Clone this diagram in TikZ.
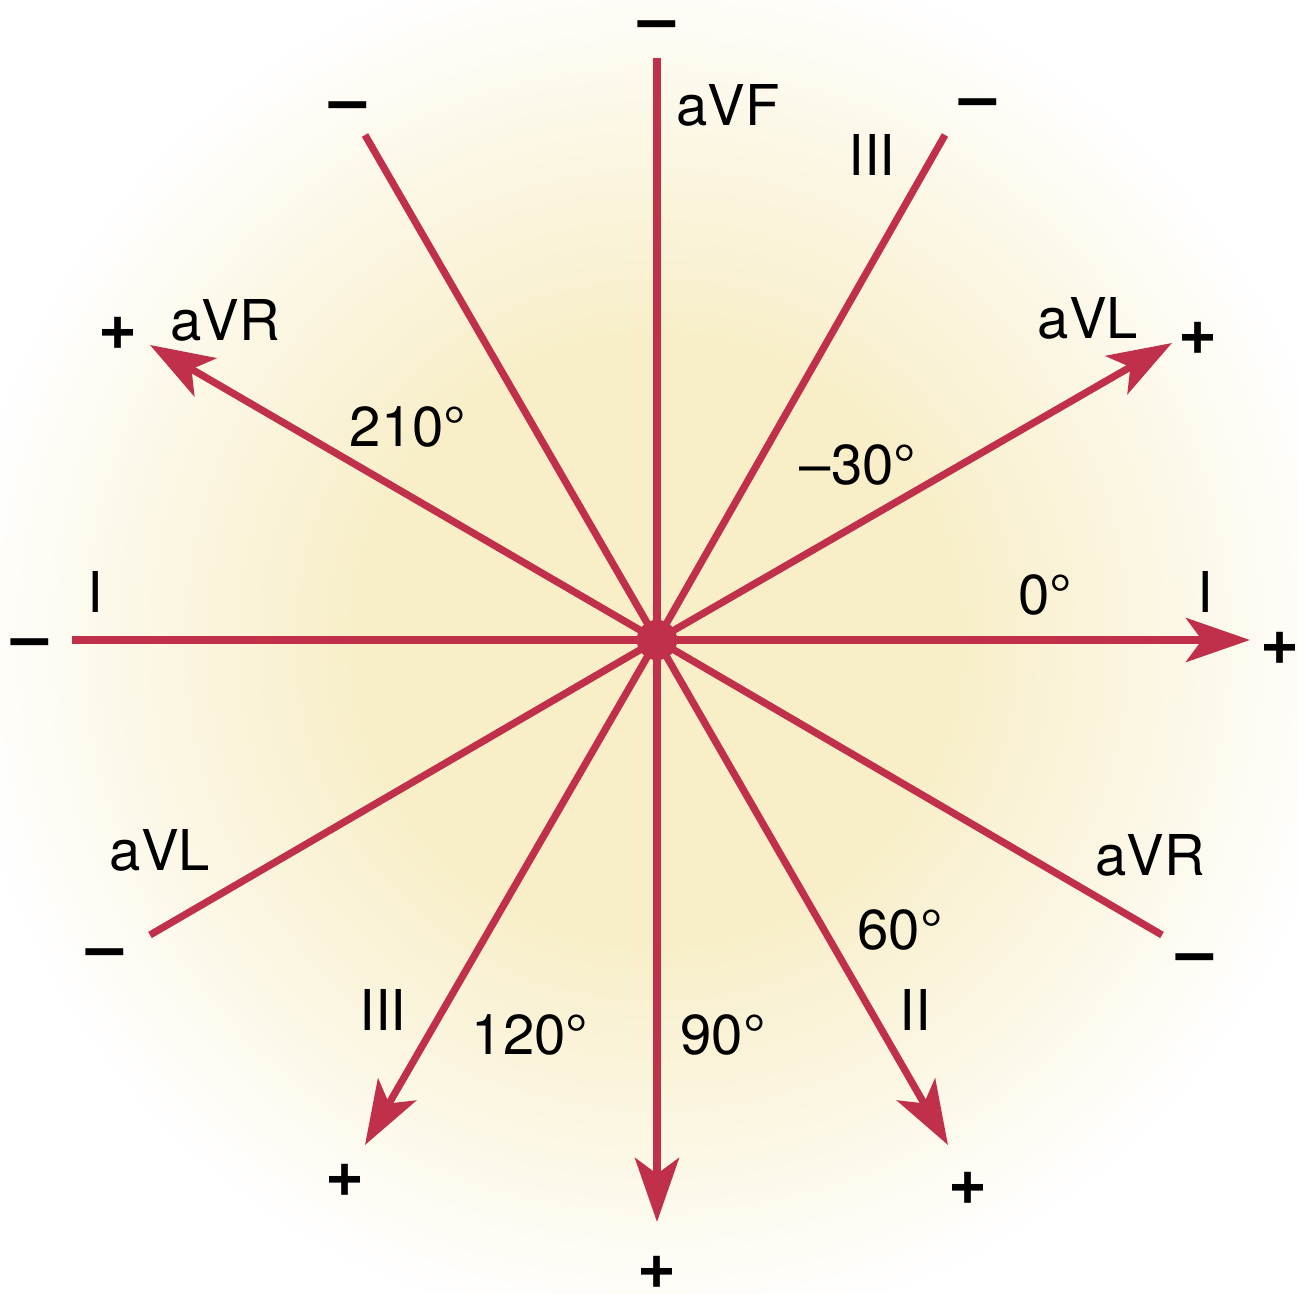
\documentclass[tikz,border=0pt]{standalone}
\usepackage{fontspec}
\setmainfont{TeX Gyre Heros}
\usetikzlibrary{arrows.meta}
\definecolor{ecgred}{RGB}{193,48,74}
\definecolor{cream}{RGB}{248,238,200}
\begin{document}
\begin{tikzpicture}[x=0.01cm,y=-0.01cm,
  lbl/.style={font=\fontsize{16pt}{19pt}\selectfont, inner sep=0pt, text=black},
  sgn/.style={font=\fontsize{19pt}{22pt}\selectfont\bfseries, inner sep=0pt, text=black},
  dsh/.style={sgn, yshift=-0.09cm},
  ray/.style={draw=ecgred, line width=0.072cm},
  arr/.style={ray, -{Stealth[length=0.64cm,width=0.44cm,inset=0.16cm]}, color=ecgred},
  dot/.style={circle, fill=ecgred, minimum size=0.4cm, inner sep=0pt}]
\useasboundingbox (0,0) rectangle (1299,1294);
\fill[white] (0,0) rectangle (1299,1294);
% background glow
\foreach \i in {0,...,40}{
  \pgfmathsetmacro\r{700-\i*10}
  \pgfmathsetmacro\p{\i*2.5}
  \fill[cream!\p!white] (657,640) circle[radius=\r];
}
% centre
\node[dot] (c) at (657,640) {};
% ends
\coordinate (eL) at (72,640);
\coordinate (eR) at (1250,640);
\coordinate (eT) at (657,58);
\coordinate (eB) at (657,1222);
\coordinate (eTL) at (365,135);
\coordinate (eTR) at (945,135);
\coordinate (eAVRp) at (150,345);
\coordinate (eAVLp) at (1172,343);
\coordinate (eBL) at (150,935);
\coordinate (eBR) at (1162,935);
\coordinate (eIIIp) at (365,1145);
\coordinate (eIIp) at (948,1145);
% lines
\draw[ray] (c.center) -- (eL);
\draw[ray] (c.center) -- (eT);
\draw[ray] (c.center) -- (eTL);
\draw[ray] (c.center) -- (eTR);
\draw[ray] (c.center) -- (eBL);
\draw[ray] (c.center) -- (eBR);
\draw[arr] (c.center) -- (eR);
\draw[arr] (c.center) -- (eB);
\draw[arr] (c.center) -- (eAVRp);
\draw[arr] (c.center) -- (eAVLp);
\draw[arr] (c.center) -- (eIIIp);
\draw[arr] (c.center) -- (eIIp);
\node[dot] (c2) at (c) {};
% signs
\node[dsh] (mT) at (657,22) {--};
\node[dsh] (mTL) at (348,103) {--};
\node[dsh] (mTR) at (978,100) {--};
\node[dsh] (mL) at (30,640) {--};
\node[dsh] (mBL) at (105,950) {--};
\node[dsh] (mBR) at (1195,955) {--};
\node[sgn] (pAVR) at (118,333) {+};
\node[sgn] (pAVL) at (1198,338) {+};
\node[sgn] (pR) at (1280,648) {+};
\node[sgn] (pIII) at (345,1180) {+};
\node[sgn] (pB) at (657,1272) {+};
\node[sgn] (pII) at (968,1188) {+};
% labels
\node[lbl] (aVF) at (728,105) {aVF};
\node[lbl] (IIIt) at (872,155) {III};
\node[lbl] (aVRt) at (225,320) {aVR};
\node[lbl] (aVLt) at (1088,318) {aVL};
\node[lbl] (d210) at (408,427) {210°};
\node[lbl] (dm30) at (858,465) {–30°};
\node[lbl] (IL) at (95,592) {I};
\node[lbl] (d0) at (1045,595) {0°};
\node[lbl] (IR) at (1205,592) {I};
\node[lbl] (aVLb) at (160,850) {aVL};
\node[lbl] (aVRb) at (1150,855) {aVR};
\node[lbl] (d60) at (900,930) {60°};
\node[lbl] (IIIb) at (383,1010) {III};
\node[lbl] (d120) at (530,1035) {120°};
\node[lbl] (d90) at (723,1035) {90°};
\node[lbl] (IIb) at (915,1010) {II};
\end{tikzpicture}
\end{document}
